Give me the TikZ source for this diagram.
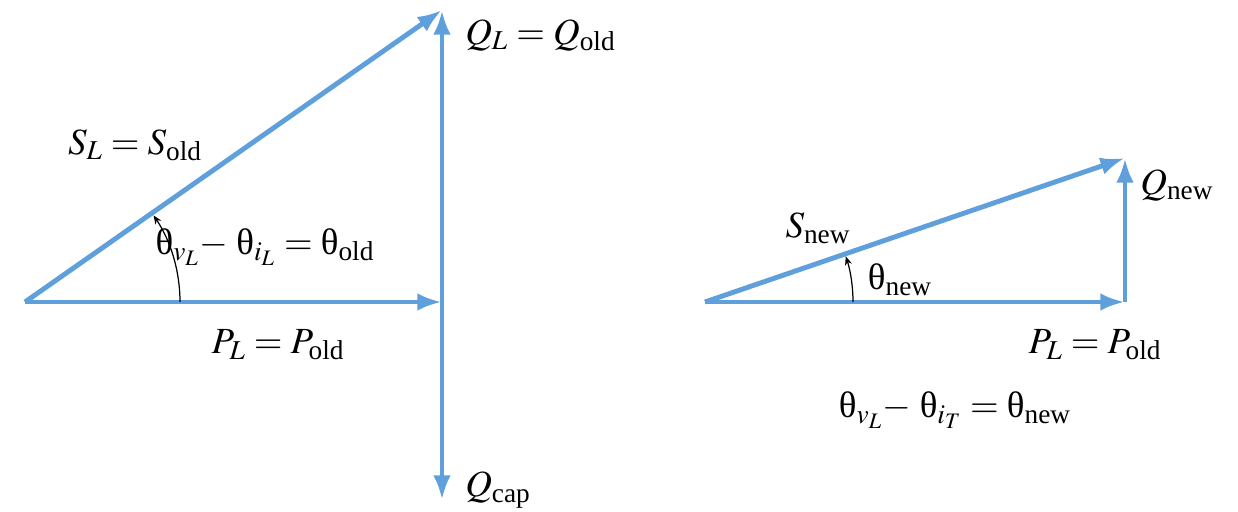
\documentclass[tikz,border=0pt]{standalone}
\usepackage{amsmath}
\usepackage{mathptmx}
\usepackage{fontspec}
\setmainfont{Liberation Serif}
\usepackage{tikz}
\usetikzlibrary{arrows.meta}
\definecolor{PFBlue}{HTML}{5F9FDB}
\newcommand{\thv}{\textrm{θ}}
\newcommand{\subtxt}[1]{\text{\rmfamily #1}}
\tikzset{
  phasor/.style={PFBlue,line width=2.8pt,-{Latex[length=14pt,width=10pt]}},
  anglearc/.style={black,line width=0.7pt,-{Stealth[length=5pt,width=4pt]}},
  lbl/.style={font=\fontsize{21}{25}\selectfont,inner sep=0pt}
}
\begin{document}
\begin{tikzpicture}[x=0.02cm,y=0.02cm]
\path[use as bounding box] (0,0) rectangle (1238,511);
% left triangle
\coordinate (O1) at (25,209);
\coordinate (T1) at (442,501);
\coordinate (E1) at (442,209);
\coordinate (B1) at (442,11);
\draw[phasor] (O1) -- (T1);
\draw[phasor] (O1) -- (E1);
\draw[phasor] (E1) -- (T1);
\draw[phasor] (E1) -- (B1);
\draw[anglearc] ([shift={(155,0)}]O1) arc[start angle=0,end angle=34,radius=3.1cm];
\node[lbl] (SL) at (135,366) {$S_L = S_{\subtxt{old}}$};
\node[lbl] (thL) at (265,264) {$\thv_{v_L}{-}\;\thv_{i_L} = \thv_{\subtxt{old}}$};
\node[lbl] (PL) at (278,166) {$P_L = P_{\subtxt{old}}$};
\node[lbl,anchor=west] (QL) at (465,476) {$Q_L = Q_{\subtxt{old}}$};
\node[lbl,anchor=west] (Qcap) at (465,21) {$Q_{\subtxt{cap}}$};
% right triangle
\coordinate (O2) at (705,209);
\coordinate (T2) at (1125,353);
\coordinate (E2) at (1125,209);
\draw[phasor] (O2) -- (T2);
\draw[phasor] (O2) -- (E2);
\draw[phasor] (E2) -- (T2);
\draw[anglearc] ([shift={(148,0)}]O2) arc[start angle=0,end angle=18,radius=2.96cm];
\node[lbl] (Snew) at (818,283) {$S_{\subtxt{new}}$};
\node[lbl] (thnew) at (900,231) {$\thv_{\subtxt{new}}$};
\node[lbl,anchor=west] (Qnew) at (1140,326) {$Q_{\subtxt{new}}$};
\node[lbl] (PL2) at (1095,166) {$P_L = P_{\subtxt{old}}$};
\node[lbl] (thT) at (955,101) {$\thv_{v_L}{-}\;\thv_{i_T} = \thv_{\subtxt{new}}$};
\end{tikzpicture}
\end{document}
